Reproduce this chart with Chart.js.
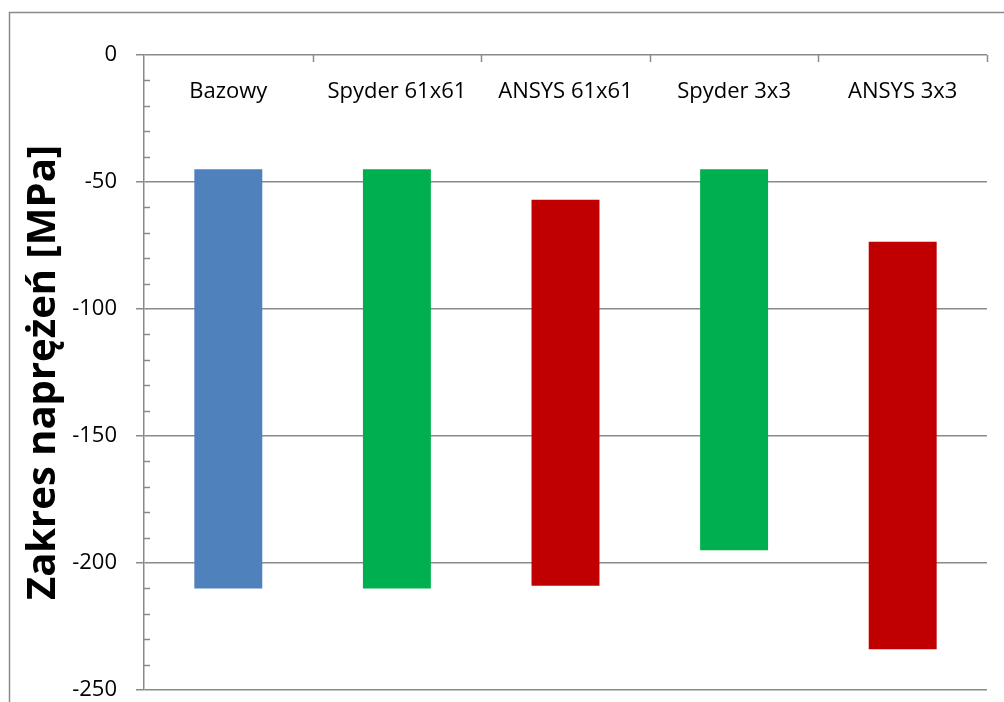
<!DOCTYPE html>
<html>
<head>
<meta charset="utf-8">
<script src="https://cdn.jsdelivr.net/npm/chart.js@4/dist/chart.umd.min.js"></script>
<style>
  html, body { margin: 0; padding: 0; background: #fff; }
  #wrap { width: 1004px; height: 702px; position: relative; }
</style>
</head>
<body>
<div id="wrap"><canvas id="myChart"></canvas></div>
<script>
const categories = ["Bazowy", "Spyder 61x61", "ANSYS 61x61", "Spyder 3x3", "ANSYS 3x3"];
const rangeTop = [-45, -45, -57, -45, -73.5];
const rangeBottom = [-210, -210, -209, -195, -234];
const yTicks = [0, -50, -100, -150, -200, -250];

const barColors = ["#4F81BD", "#00B050", "#C00000", "#00B050", "#C00000"];
const axisGray = "#8a8a8a";
const fontFamily = "'Open Sans', sans-serif";

const ranges = categories.map((c, i) => [rangeBottom[i], rangeTop[i]]);

// frame round the whole chart, minor ticks, category ticks and labels
const excelBits = {
  id: "excelBits",
  beforeDraw(chart) {
    const ctx = chart.ctx;
    ctx.save();
    ctx.strokeStyle = axisGray;
    ctx.lineWidth = 1.5;
    ctx.strokeRect(9.5, 12.5, 1200, 1200);
    ctx.restore();
  },
  afterDraw(chart) {
    const ctx = chart.ctx;
    const x = chart.scales.x;
    const y = chart.scales.y;
    const area = chart.chartArea;
    ctx.save();
    ctx.strokeStyle = axisGray;
    ctx.lineWidth = 1.5;
    ctx.beginPath();
    // minor ticks every 10, pointing into the plot
    for (let v = 0; v >= -250; v -= 10) {
      if (v % 50 === 0) continue;
      const py = Math.round(y.getPixelForValue(v)) + 0.5;
      ctx.moveTo(area.left, py);
      ctx.lineTo(area.left + 6, py);
    }
    // category boundary ticks on the top (zero) line
    const step = (area.right - area.left) / categories.length;
    for (let i = 1; i <= categories.length; i++) {
      const px = Math.round(area.left + step * i) + 0.5;
      ctx.moveTo(px, area.top);
      ctx.lineTo(px, area.top + 7);
    }
    ctx.stroke();

    ctx.fillStyle = "#000";
    ctx.font = "22px " + fontFamily;
    ctx.textAlign = "center";
    ctx.textBaseline = "middle";
    categories.forEach((c, i) => {
      ctx.fillText(c, x.getPixelForValue(i), area.top + 37);
    });
    ctx.restore();
  }
};

const ctx = document.getElementById("myChart").getContext("2d");

new Chart(ctx, {
  type: "bar",
  data: {
    labels: categories,
    datasets: [{
      data: ranges,
      backgroundColor: barColors,
      borderWidth: 0,
      categoryPercentage: 1,
      barPercentage: 0.403
    }]
  },
  options: {
    responsive: true,
    maintainAspectRatio: false,
    animation: false,
    layout: { padding: { top: 55, right: 17, bottom: 12, left: 0 } },
    plugins: {
      legend: { display: false },
      tooltip: { enabled: false }
    },
    scales: {
      x: {
        display: false
      },
      y: {
        min: -250,
        max: 0,
        afterFit: scale => {
          scale.width = 144;
          scale.paddingTop = 0;
          scale.paddingBottom = 0;
        },
        afterBuildTicks: scale => { scale.ticks = yTicks.map(v => ({ value: v })); },
        ticks: {
          color: "#000",
          padding: 19,
          font: { family: fontFamily, size: 22 }
        },
        grid: {
          color: axisGray,
          lineWidth: 1.5,
          tickLength: 8
        },
        border: { color: axisGray, width: 1.5 },
        title: {
          display: true,
          text: "Zakres naprężeń [MPa]",
          color: "#000",
          padding: { top: 20, bottom: 0 },
          font: { family: fontFamily, size: 40, weight: "bold" }
        }
      }
    }
  },
  plugins: [excelBits]
});
</script>
</body>
</html>
